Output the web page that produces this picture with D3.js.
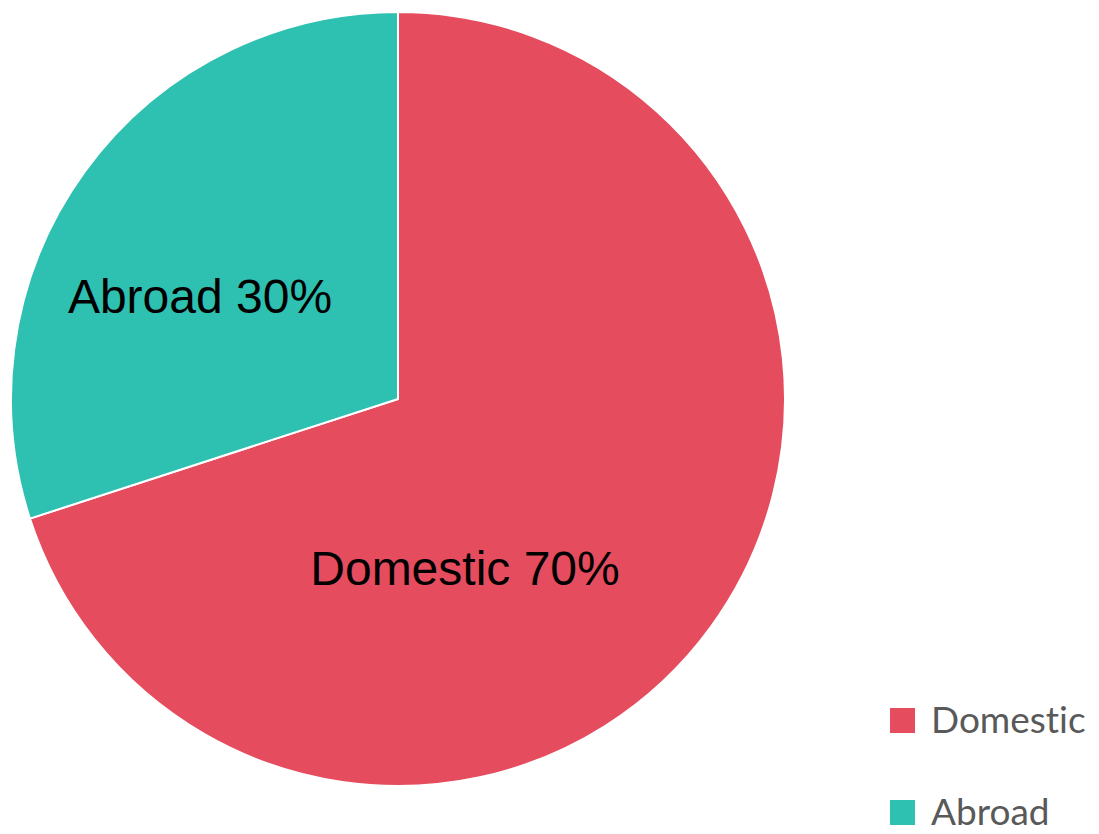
<!DOCTYPE html>
<html><head><meta charset="utf-8">
<script src="https://cdn.jsdelivr.net/npm/d3@7"></script>
<style>html,body{margin:0;padding:0;background:#fff;}</style>
</head><body>
<svg id="chart" width="1099" height="834"></svg>
<script>
const categories = ["Domestic", "Abroad"];
const values = [70, 30];
const colors = ["#e54c5e", "#2ec1b1"];

const svg = d3.select("#chart");
const cx = 398, cy = 399, r = 387;
const g = svg.append("g").attr("transform", `translate(${cx},${cy})`);
const data = categories.map((c, i) => ({name: c, value: values[i], color: colors[i]}));
const pie = d3.pie().value(d => d.value).sort(null);
const arc = d3.arc().innerRadius(0).outerRadius(r);
const arcs = pie(data);
g.selectAll("path").data(arcs).join("path")
  .attr("d", arc).attr("fill", d => d.data.color)
  .attr("stroke", "#fff").attr("stroke-width", 2);

const labelPos = [[465, 585], [200, 313]];
svg.selectAll("text.lbl").data(arcs).join("text").attr("class", "lbl")
  .attr("x", (d, i) => labelPos[i][0]).attr("y", (d, i) => labelPos[i][1])
  .attr("text-anchor", "middle")
  .attr("font-family", "Liberation Sans, Arial, sans-serif").attr("font-size", 48)
  .attr("fill", "#000")
  .text(d => `${d.data.name} ${d.data.value}%`);

const leg = svg.append("g");
const legY = [708, 800];
data.forEach((d, i) => {
  leg.append("rect").attr("x", 890).attr("y", legY[i]).attr("width", 25).attr("height", 25).attr("fill", d.color);
  leg.append("text").attr("x", 931).attr("y", legY[i] + 25)
    .attr("font-family", "Lato, 'Open Sans', sans-serif").attr("font-size", 37)
    .style("font-variant-ligatures", "none")
    .attr("fill", "#595959").text(d.name);
});
</script>
</body></html>
